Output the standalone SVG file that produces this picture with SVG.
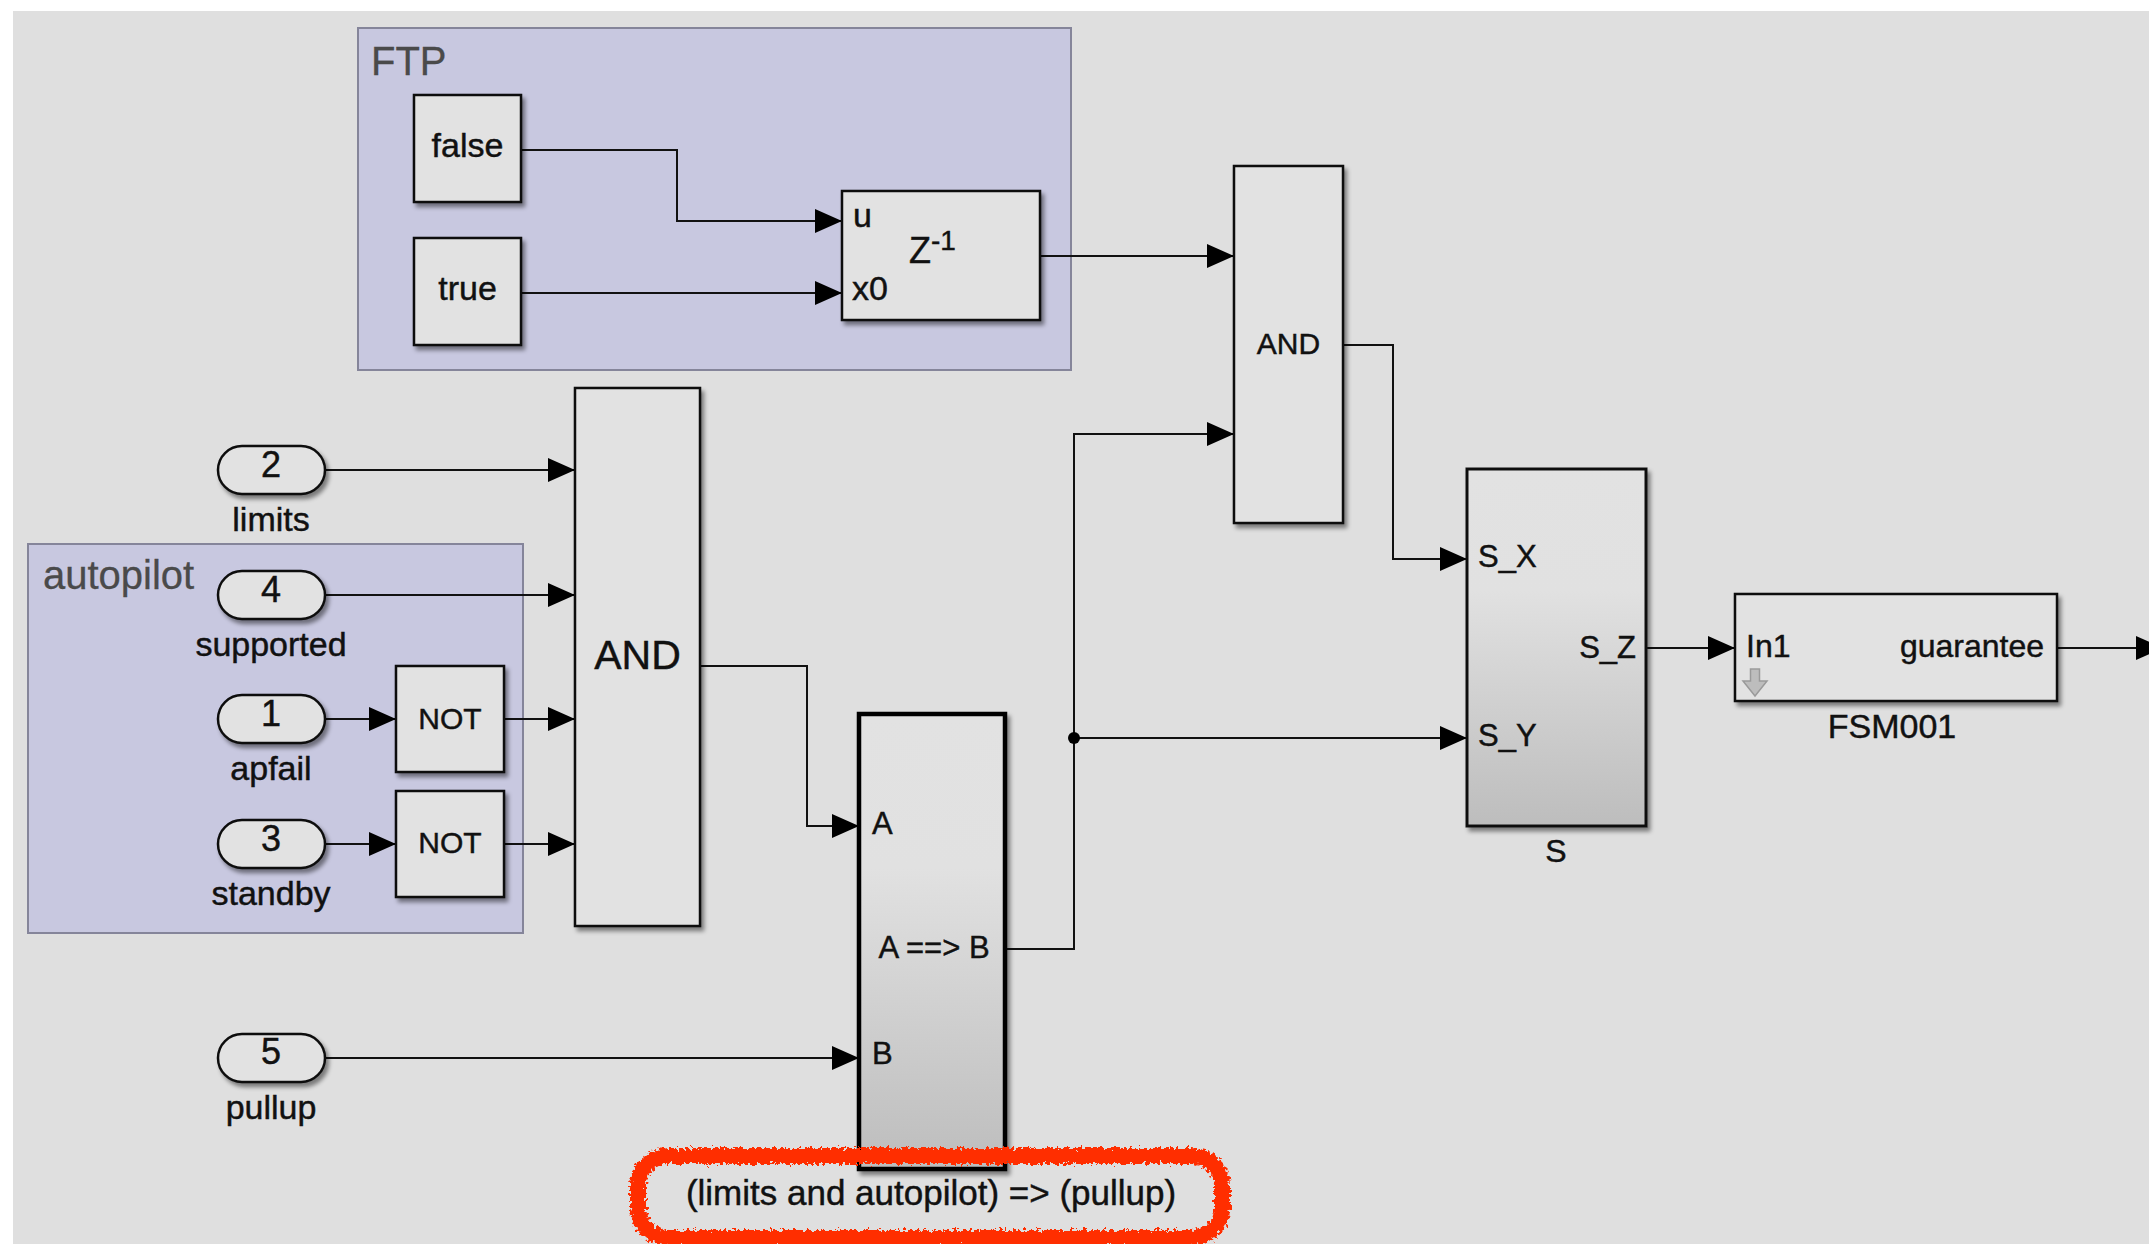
<svg xmlns="http://www.w3.org/2000/svg" width="2149" height="1244" viewBox="0 0 2149 1244">
<style>
text{font-family:"Liberation Sans",Arial,Helvetica,sans-serif;fill:#111;stroke:#111;stroke-width:0.45}
.blk{fill:#e2e2e2;stroke:#111;stroke-width:2.5}
.port{fill:#e2e2e2;stroke:#111;stroke-width:2.5}
.grp{fill:#c8c8e0;stroke:#85859a;stroke-width:2}
.glbl{font-size:40px;fill:#4a4a4a;stroke:#4a4a4a;stroke-width:0.3}
.wire{fill:none;stroke:#111;stroke-width:2}
.mid{text-anchor:middle}
.end{text-anchor:end}
</style>
<defs>
<filter id="sh" x="-10%" y="-10%" width="130%" height="130%">
<feDropShadow dx="3" dy="4" stdDeviation="2.2" flood-color="#000" flood-opacity="0.45"/>
</filter>
<filter id="rough" x="-5%" y="-25%" width="110%" height="150%">
<feTurbulence type="fractalNoise" baseFrequency="0.3" numOctaves="3" seed="7" result="n"/>
<feDisplacementMap in="SourceGraphic" in2="n" scale="10" xChannelSelector="R" yChannelSelector="G"/>
</filter>
<linearGradient id="grad" x1="0" y1="0" x2="0" y2="1">
<stop offset="0" stop-color="#e2e2e2"/>
<stop offset="0.34" stop-color="#e1e1e1"/>
<stop offset="1" stop-color="#bdbdbd"/>
</linearGradient>
<marker id="arr" markerUnits="userSpaceOnUse" markerWidth="27" markerHeight="24" refX="27" refY="12" orient="auto">
<path d="M0,0 L27,12 L0,24 Z" fill="#000"/>
</marker>
</defs>

<rect x="13" y="11" width="2136" height="1233" fill="#dfdfdf"/>

<g id="group-FTP">
<rect class="grp" x="358" y="28" width="713" height="342"/>
<text class="glbl" x="371" y="75">FTP</text>
</g>
<g id="group-autopilot">
<rect class="grp" x="28" y="544" width="495" height="389"/>
<text class="glbl" x="43" y="589">autopilot</text>
</g>

<g id="connectors">
<path class="wire" d="M521,150 H677 V221 H842" marker-end="url(#arr)"/>
<path class="wire" d="M521,293 H842" marker-end="url(#arr)"/>
<path class="wire" d="M1040,256 H1234" marker-end="url(#arr)"/>
<path class="wire" d="M325,470 H575" marker-end="url(#arr)"/>
<path class="wire" d="M325,595 H575" marker-end="url(#arr)"/>
<path class="wire" d="M325,719 H396" marker-end="url(#arr)"/>
<path class="wire" d="M504,719 H575" marker-end="url(#arr)"/>
<path class="wire" d="M325,844 H396" marker-end="url(#arr)"/>
<path class="wire" d="M504,844 H575" marker-end="url(#arr)"/>
<path class="wire" d="M700,666 H807 V826 H859" marker-end="url(#arr)"/>
<path class="wire" d="M325,1058 H859" marker-end="url(#arr)"/>
<path class="wire" d="M1005,949 H1074 V434 H1234" marker-end="url(#arr)"/>
<path class="wire" d="M1074,738 H1467" marker-end="url(#arr)"/>
<circle cx="1074" cy="738" r="6" fill="#000"/>
<path class="wire" d="M1343,345 H1393 V559 H1467" marker-end="url(#arr)"/>
<path class="wire" d="M1646,648 H1735" marker-end="url(#arr)"/>
<path class="wire" d="M2057,648 H2163" marker-end="url(#arr)"/>
</g>

<g id="false">
<rect class="blk" x="414" y="95" width="107" height="107" filter="url(#sh)"/>
<text class="mid" x="467.5" y="157" font-size="34">false</text>
</g>
<g id="true">
<rect class="blk" x="414" y="238" width="107" height="107" filter="url(#sh)"/>
<text class="mid" x="467.5" y="300" font-size="34">true</text>
</g>
<g id="delay">
<rect class="blk" x="842" y="191" width="198" height="129" filter="url(#sh)"/>
<text x="853" y="227" font-size="34">u</text>
<text x="852" y="300" font-size="34">x0</text>
<text x="909" y="263" font-size="36">Z<tspan font-size="28" dy="-13">-1</tspan></text>
</g>

<g id="in-limits">
<rect class="port" x="218" y="446" width="107" height="48" rx="24" filter="url(#sh)"/>
<text class="mid" x="271" y="477" font-size="36">2</text>
<text class="mid" x="271" y="531" font-size="34">limits</text>
</g>
<g id="in-supported">
<rect class="port" x="218" y="571" width="107" height="48" rx="24" filter="url(#sh)"/>
<text class="mid" x="271" y="602" font-size="36">4</text>
<text class="mid" x="271" y="656" font-size="34">supported</text>
</g>
<g id="in-apfail">
<rect class="port" x="218" y="695" width="107" height="48" rx="24" filter="url(#sh)"/>
<text class="mid" x="271" y="726" font-size="36">1</text>
<text class="mid" x="271" y="780" font-size="34">apfail</text>
</g>
<g id="in-standby">
<rect class="port" x="218" y="820" width="107" height="48" rx="24" filter="url(#sh)"/>
<text class="mid" x="271" y="851" font-size="36">3</text>
<text class="mid" x="271" y="905" font-size="34">standby</text>
</g>
<g id="in-pullup">
<rect class="port" x="218" y="1034" width="107" height="48" rx="24" filter="url(#sh)"/>
<text class="mid" x="271" y="1064" font-size="36">5</text>
<text class="mid" x="271" y="1119" font-size="34">pullup</text>
</g>

<g id="not1">
<rect class="blk" x="396" y="666" width="108" height="106" filter="url(#sh)"/>
<text class="mid" x="450" y="729" font-size="30">NOT</text>
</g>
<g id="not2">
<rect class="blk" x="396" y="791" width="108" height="106" filter="url(#sh)"/>
<text class="mid" x="450" y="853" font-size="30">NOT</text>
</g>

<g id="and1">
<rect class="blk" x="575" y="388" width="125" height="538" filter="url(#sh)"/>
<text class="mid" x="637.5" y="669" font-size="41">AND</text>
</g>

<g id="and2">
<rect class="blk" x="1234" y="166" width="109" height="357" filter="url(#sh)"/>
<text class="mid" x="1288.5" y="354" font-size="30">AND</text>
</g>

<g id="implies">
<rect x="859" y="714" width="146" height="455" fill="url(#grad)" stroke="#000" stroke-width="4.5" filter="url(#sh)"/>
<text x="872" y="834" font-size="31">A</text>
<text class="mid" x="934" y="958" font-size="31">A ==&gt; B</text>
<text x="872" y="1064" font-size="31">B</text>
</g>

<g id="S">
<rect x="1467" y="469" width="179" height="357" fill="url(#grad)" stroke="#111" stroke-width="3" filter="url(#sh)"/>
<text x="1478" y="567" font-size="31">S_X</text>
<text x="1478" y="746" font-size="31">S_Y</text>
<text class="end" x="1636" y="658" font-size="31">S_Z</text>
<text class="mid" x="1556" y="862" font-size="32">S</text>
</g>

<g id="FSM001">
<rect class="blk" x="1735" y="594" width="322" height="107" filter="url(#sh)"/>
<text x="1746" y="657" font-size="32">In1</text>
<text class="end" x="2044" y="657" font-size="32">guarantee</text>
<path d="M1750.5,669 H1759.5 V681 H1767 L1755,696 L1743,681 H1750.5 Z" fill="#bdbdbd" stroke="#9a9a9a" stroke-width="1.5"/>
<text class="mid" x="1892" y="738" font-size="34">FSM001</text>
</g>

<g id="highlight">
<rect x="638" y="1156" width="584" height="82" rx="30" fill="none" stroke="#ff2d00" stroke-width="16" filter="url(#rough)"/>
<text class="mid" x="931" y="1205" font-size="35">(limits and autopilot) =&gt; (pullup)</text>
</g>
</svg>
